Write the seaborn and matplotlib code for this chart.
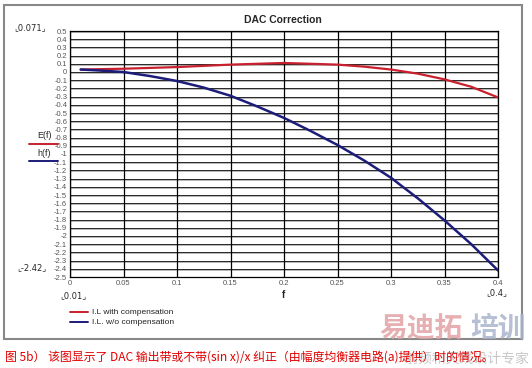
import numpy as np
import pandas as pd
import matplotlib
matplotlib.use('Agg')
import matplotlib.pyplot as plt
import seaborn as sns
from matplotlib.patches import Rectangle

# values
f_red = [0.01, 0.05, 0.1, 0.15, 0.2, 0.25, 0.275, 0.3, 0.325, 0.35, 0.375, 0.4]
e_red = [0.03, 0.04, 0.06, 0.09, 0.11, 0.09, 0.065, 0.03, -0.02, -0.09, -0.18, -0.31]
f_blue = [0.01, 0.025, 0.05, 0.075, 0.1, 0.125, 0.15, 0.175, 0.2, 0.225, 0.25,
          0.275, 0.3, 0.325, 0.35, 0.375, 0.4]
h_blue = [0.03, 0.02, 0.0, -0.05, -0.11, -0.19, -0.29, -0.42, -0.56, -0.72, -0.89,
          -1.08, -1.29, -1.54, -1.81, -2.1, -2.42]
y_ticks = np.round(np.arange(-2.5, 0.51, 0.1), 2)
x_ticks = [0, 0.05, 0.1, 0.15, 0.2, 0.25, 0.3, 0.35, 0.4]
legend_labels = ['I.L with compensation', 'I.L. w/o compensation']
caption = '图 5b） 该图显示了 DAC 输出带或不带(sin x)/x 纠正（由幅度均衡器电路(a)提供）时的情况。'

red = '#c8202e'
blue = '#1c1c7a'

sns.set_style('white')
plt.rcParams['font.family'] = ['Liberation Sans', 'DejaVu Sans']

fig = plt.figure(figsize=(5.32, 3.68), dpi=100)
ax = fig.add_axes([70 / 532, 1 - 277 / 368, 428 / 532, 246 / 368])

# grid: gray band under each thin black line
for y in y_ticks:
    ax.axhline(y - 0.012, color='#b0b0b0', lw=1.3, zorder=1)
    ax.axhline(y, color='#111111', lw=0.6, zorder=1)
for x in x_ticks:
    ax.axvline(x, color='black', lw=0.9, zorder=1)

df_r = pd.DataFrame({'f': f_red, 'v': e_red})
df_b = pd.DataFrame({'f': f_blue, 'v': h_blue})
sns.lineplot(data=df_r, x='f', y='v', color=red, lw=1.6, ax=ax, zorder=3)
sns.lineplot(data=df_b, x='f', y='v', color=blue, lw=1.8, ax=ax, zorder=3)

ax.set_xlim(0, 0.4)
ax.set_ylim(-2.5, 0.5)
ax.set_yticks(y_ticks)
ax.set_yticklabels([f'{v:g}' for v in y_ticks], fontsize=5.5, color='#555555')
ax.set_xticks(x_ticks)
ax.set_xticklabels([f'{v:g}' for v in x_ticks], fontsize=5.5, color='#555555')
ax.tick_params(length=0, pad=2)
ax.set_xlabel('f', fontsize=7, fontweight='bold', labelpad=2)
ax.set_ylabel('')
for s in ax.spines.values():
    s.set_color('black')
    s.set_linewidth(0.9)

fig.text(283 / 532, 1 - 20 / 368, 'DAC Correction', ha='center', va='center',
         fontsize=7.5, fontweight='bold')

# corner labels
corner = dict(ha='center', va='center', fontsize=6, family=['DejaVu Sans'])
fig.text(30 / 532, 1 - 28 / 368, '\u231e0.071\u231f', **corner)
fig.text(32 / 532, 1 - 268 / 368, '\u231e-2.42\u231f', **corner)
fig.text(73 / 532, 1 - 296 / 368, '\u231e0.01\u231f', **corner)
fig.text(497 / 532, 1 - 293 / 368, '\u231e0.4\u231f', **corner)

# series markers beside the y axis
fig.text(44 / 532, 1 - 136 / 368, 'E(f)', ha='center', va='center', fontsize=6.5)
fig.add_artist(plt.Line2D([29 / 532, 58 / 532], [1 - 144 / 368] * 2, color=red, lw=1.4))
fig.text(44 / 532, 1 - 153 / 368, 'h(f)', ha='center', va='center', fontsize=6.5)
fig.add_artist(plt.Line2D([29 / 532, 58 / 532], [1 - 161 / 368] * 2, color=blue, lw=1.4))

# legend
for i, (lab, c) in enumerate(zip(legend_labels, [red, blue])):
    yy = 1 - (312 + 10 * i) / 368
    fig.add_artist(plt.Line2D([70 / 532, 88 / 532], [yy, yy], color=c, lw=1.4))
    fig.text(92 / 532, yy, lab, ha='left', va='center', fontsize=6, color='#222222')

# outer frame
fig.add_artist(Rectangle((4 / 532, 1 - 339 / 368), 518 / 532, 334 / 368,
                         transform=fig.transFigure, fill=False,
                         edgecolor='#888888', lw=1.5))

# watermark
cjk = ['Noto Sans CJK SC']
fig.text(421 / 532, 1 - 329 / 368, '易迪拓', ha='center', va='center', fontsize=20,
         fontweight='bold', color='#e2a3a6', family=cjk, alpha=0.85)
fig.text(498 / 532, 1 - 329 / 368, '培训', ha='center', va='center', fontsize=20,
         fontweight='bold', color='#a9b4cc', family=cjk, alpha=0.85)
fig.text(467 / 532, 1 - 359 / 368, '射频和天线设计专家', ha='center', va='center',
         fontsize=10, color='#c8c8c8', family=cjk)

fig.text(5 / 532, 1 - 357 / 368, caption, ha='left', va='center', fontsize=8.6,
         color='#e00000', family=cjk + ['DejaVu Sans'])

fig.savefig('out.png', dpi=100)
